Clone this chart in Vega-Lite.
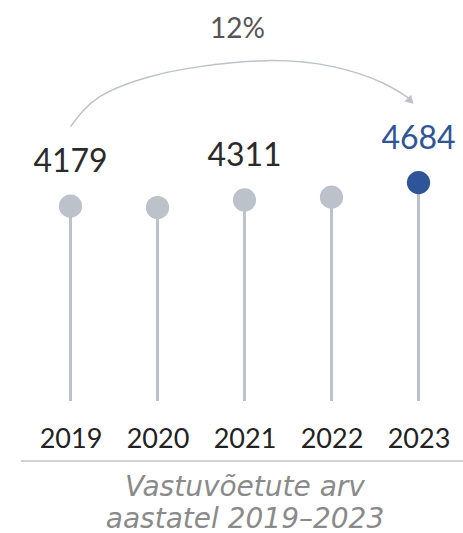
{
  "$schema": "https://vega.github.io/schema/vega-lite/v6.json",
  "autosize": "none",
  "width": 435,
  "height": 401,
  "padding": {"left": 27, "top": 0, "right": 1, "bottom": 132},
  "background": "white",
  "config": {"view": {"stroke": null}, "font": "Lato"},
  "datasets": {
    "bars": [
      {"year": 2019, "value": 4179, "label": "4179", "highlight": "no"},
      {"year": 2020, "value": 4150, "label": "", "highlight": "no"},
      {"year": 2021, "value": 4311, "label": "4311", "highlight": "no"},
      {"year": 2022, "value": 4372, "label": "", "highlight": "no"},
      {"year": 2023, "value": 4684, "label": "4684", "highlight": "yes"}
    ],
    "arc": [
      {"x": 2019.0, "y": 5884},
      {"x": 2019.337, "y": 6527},
      {"x": 2019.911, "y": 6956},
      {"x": 2020.486, "y": 7171},
      {"x": 2021.253, "y": 7299},
      {"x": 2022.015, "y": 7171},
      {"x": 2022.59, "y": 6821},
      {"x": 2022.9, "y": 6480}
    ],
    "head": [{"x": 2022.91, "y": 6435}],
    "pct": [{"x": 2020.92, "y": 7786, "text": "12%"}],
    "base": [{"x": 2018.43, "x2": 2023.52, "y": -1287}]
  },
  "layer": [
    {
      "data": {"name": "bars"},
      "mark": {"type": "rule", "strokeWidth": 3, "color": "#bcc2c9"},
      "encoding": {
        "x": {
          "field": "year", "type": "quantitative",
          "scale": {"domain": [2018.5, 2023.5], "nice": false, "zero": false},
          "axis": {
            "values": [2019, 2020, 2021, 2022, 2023],
            "format": "d",
            "grid": false, "ticks": false, "tickSize": 0, "domain": false,
            "labelFontSize": 27, "labelColor": "#222222", "labelFont": "Lato",
            "labelBaseline": "alphabetic", "labelPadding": 46, "labelFlush": false,
            "title": ["Vastuvõetute arv", "aastatel 2019–2023"],
            "titleFont": "DejaVu Sans", "titleFontSize": 28, "titleFontStyle": "italic",
            "titleFontWeight": "normal", "titleColor": "#8a8a8a",
            "titlePadding": 21, "titleLineHeight": 32
          }
        },
        "y": {
          "field": "value", "type": "quantitative",
          "scale": {"domain": [0, 8600], "nice": false},
          "axis": null
        },
        "y2": {"datum": 0}
      }
    },
    {
      "data": {"name": "bars"},
      "mark": {"type": "point", "filled": true, "opacity": 1, "size": 540},
      "encoding": {
        "x": {"field": "year", "type": "quantitative"},
        "y": {"field": "value", "type": "quantitative"},
        "color": {
          "condition": {"test": "datum.highlight == 'yes'", "value": "#2e5597"},
          "value": "#bcc2c9"
        }
      }
    },
    {
      "data": {"name": "bars"},
      "transform": [{"filter": "datum.label != ''"}],
      "mark": {"type": "text", "fontSize": 32, "dy": -34, "baseline": "alphabetic", "align": "center", "font": "Lato"},
      "encoding": {
        "x": {"field": "year", "type": "quantitative"},
        "y": {"field": "value", "type": "quantitative"},
        "text": {"field": "label"},
        "color": {
          "condition": {"test": "datum.highlight == 'yes'", "value": "#2e5597"},
          "value": "#2a2a2a"
        }
      }
    },
    {
      "data": {"name": "arc"},
      "mark": {"type": "line", "interpolate": "natural", "color": "#bcc2c9", "strokeWidth": 1.5},
      "encoding": {
        "x": {"field": "x", "type": "quantitative"},
        "y": {"field": "y", "type": "quantitative"}
      }
    },
    {
      "data": {"name": "head"},
      "mark": {"type": "point", "shape": "triangle-right", "filled": true, "opacity": 1, "color": "#bcc2c9", "size": 90, "angle": 45},
      "encoding": {
        "x": {"field": "x", "type": "quantitative"},
        "y": {"field": "y", "type": "quantitative"}
      }
    },
    {
      "data": {"name": "pct"},
      "mark": {"type": "text", "fontSize": 28, "baseline": "alphabetic", "align": "center", "color": "#555555", "font": "Lato"},
      "encoding": {
        "x": {"field": "x", "type": "quantitative"},
        "y": {"field": "y", "type": "quantitative"},
        "text": {"field": "text"}
      }
    },
    {
      "data": {"name": "base"},
      "mark": {"type": "rule", "color": "#c4c4c4", "strokeWidth": 1.5},
      "encoding": {
        "x": {"field": "x", "type": "quantitative"},
        "x2": {"field": "x2"},
        "y": {"field": "y", "type": "quantitative"}
      }
    }
  ]
}
